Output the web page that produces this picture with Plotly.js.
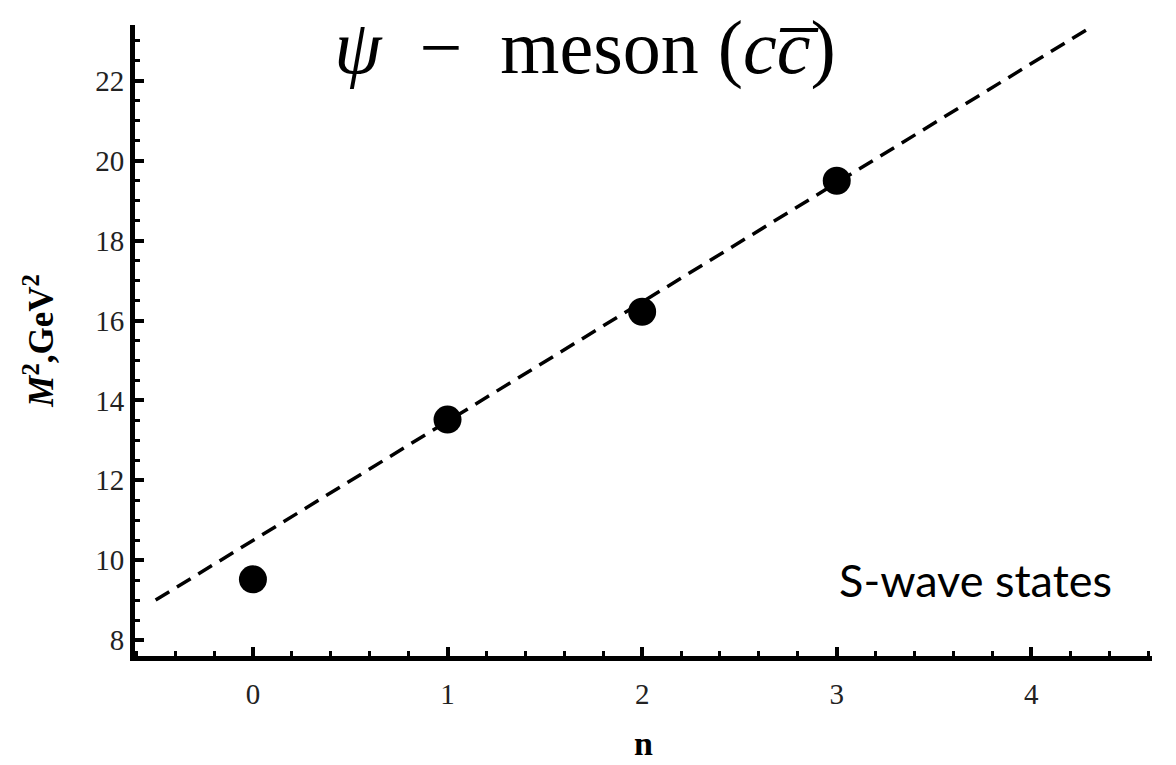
<!DOCTYPE html>
<html>
<head>
<meta charset="utf-8">
<script src="https://cdn.plot.ly/plotly-3.0.1.min.js"></script>
<style>
  html, body { margin: 0; padding: 0; background: #fff; }
  #chart { width: 1176px; height: 765px; }
</style>
</head>
<body>
<div id="chart"></div>
<script>
// Radial quantum number and squared masses of the psi (c c-bar) S-wave states
const stateN = [0, 1, 2, 3];
const massSquared = [9.52, 13.52, 16.22, 19.5];

// Linear Regge trajectory through the states
const trajectoryN = [-0.5, 4.3];
const trajectoryM2 = [9.0, 23.33];

// Axis ticks
const xTicks = [0, 1, 2, 3, 4];
const yTicks = [8, 10, 12, 14, 16, 18, 20, 22];

const serif = 'Liberation Serif, Times New Roman, serif';
const tickFont = { family: serif, size: 29, color: '#222' };

const traces = [
  {
    x: trajectoryN,
    y: trajectoryM2,
    type: 'scatter',
    mode: 'lines',
    line: { color: '#000', width: 3.5, dash: '16px,9px' },
    hoverinfo: 'skip',
    showlegend: false
  },
  {
    x: stateN,
    y: massSquared,
    type: 'scatter',
    mode: 'markers',
    marker: { color: '#000', size: 28 },
    showlegend: false
  }
];

const layout = {
  width: 1176,
  height: 765,
  paper_bgcolor: '#fff',
  plot_bgcolor: '#fff',
  margin: { l: 135, r: 24, t: 25, b: 109 },
  title: {
    text: '<i>ψ</i>\u2002−\u2002meson (<i>c</i><i>c\u0305</i>)',
    font: { family: serif, size: 76, color: '#000' },
    x: 0.4975,
    xanchor: 'center',
    xref: 'container',
    y: 0.94,
    yanchor: 'middle',
    yref: 'container'
  },
  xaxis: {
    range: [-0.606, 4.62],
    showgrid: false,
    zeroline: false,
    showline: true,
    linecolor: '#000',
    linewidth: 5,
    ticks: 'inside',
    tickcolor: '#000',
    tickwidth: 4,
    ticklen: 9,
    tickfont: tickFont,
    ticklabelstandoff: 8,
    tickvals: xTicks,
    ticktext: xTicks.map(String),
    minor: { dtick: 0.2, tick0: 0, ticks: 'inside', ticklen: 5, tickwidth: 3, tickcolor: '#000' },
    title: {
      text: '<b>n</b>',
      font: { family: serif, size: 34, color: '#000' },
      standoff: 24
    }
  },
  yaxis: {
    range: [7.6, 23.4],
    showgrid: false,
    zeroline: false,
    showline: true,
    linecolor: '#000',
    linewidth: 5,
    ticks: 'inside',
    tickcolor: '#000',
    tickwidth: 4,
    ticklen: 9,
    tickfont: tickFont,
    tickvals: yTicks,
    ticktext: yTicks.map(String),
    minor: { dtick: 0.5, tick0: 0, ticks: 'inside', ticklen: 5, tickwidth: 3, tickcolor: '#000' },
    title: {
      text: '<b><i>M</i><sup>2</sup>,GeV<sup>2</sup></b>',
      font: { family: serif, size: 35, color: '#000' },
      standoff: 32
    }
  },
  annotations: [
    {
      text: 'S-wave states',
      xref: 'paper',
      yref: 'paper',
      x: (975 - 135) / (1176 - 135 - 24),
      y: (656 - 580) / (765 - 25 - 109),
      xanchor: 'center',
      yanchor: 'middle',
      showarrow: false,
      font: { family: 'Lato, Open Sans, sans-serif', size: 45, color: '#000' }
    }
  ]
};

Plotly.newPlot('chart', traces, layout, { displayModeBar: false, staticPlot: true });
</script>
</body>
</html>
